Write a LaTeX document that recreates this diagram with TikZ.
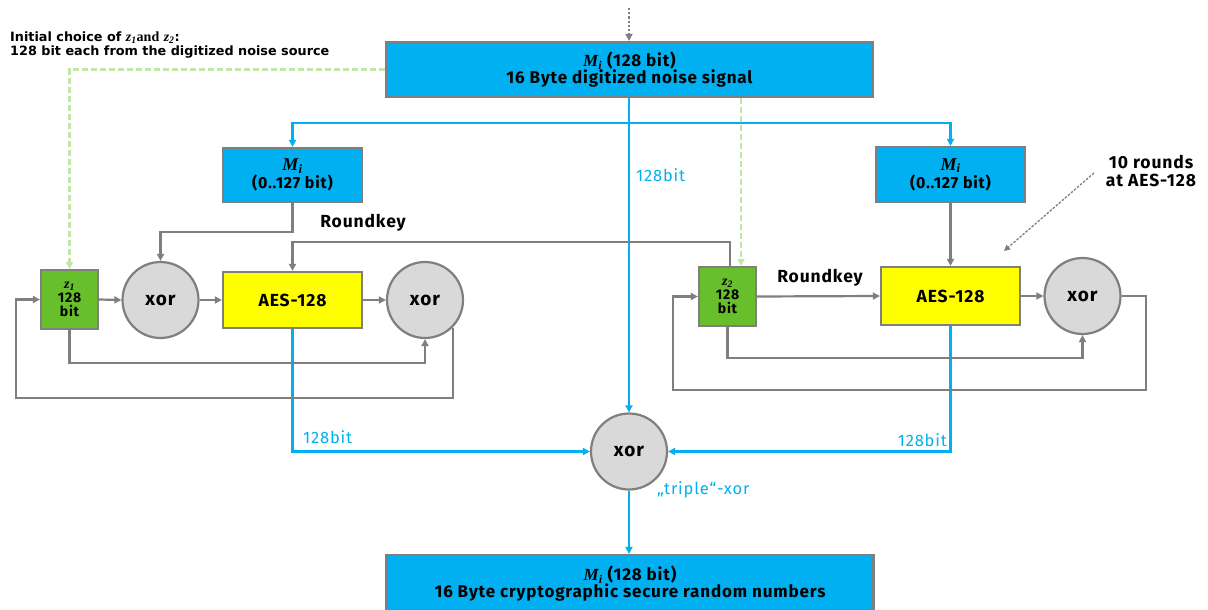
\documentclass[tikz,border=0pt]{standalone}
\usepackage{fontspec}
\setmainfont{Fira Sans}[LetterSpace=5]
\newfontfamily\serifm{Liberation Serif}
\newfontfamily\notefont{DejaVu Sans}
\usetikzlibrary{arrows.meta,calc}
\definecolor{cy}{HTML}{00B0F0}
\definecolor{gr}{HTML}{7F7F7F}
\definecolor{yel}{HTML}{FFFF00}
\definecolor{zg}{HTML}{66BF2B}
\definecolor{lg}{HTML}{C2E5A8}
\definecolor{cg}{HTML}{D9D9D9}
\newcommand{\fsz}[1]{\fontsize{#1}{#1}\selectfont}
\newcommand{\Mi}{{\serifm\bfseries\itshape M\textsubscript{i}}}
\newcommand{\zi}[1]{{\serifm\bfseries\itshape z\textsubscript{#1}}}
\tikzset{
  tip/.style={-{Triangle[length=7pt,width=7pt]}},
  boxnode/.style={draw=gr, line width=2.2pt, inner sep=0pt, align=center, font=\bfseries\fsz{17}},
  bluebox/.style={boxnode, fill=cy},
  aesbox/.style={boxnode, fill=yel, font=\bfseries\fsz{17.5}},
  zbox/.style={boxnode, fill=zg, minimum width=57pt, minimum height=59pt, font=\bfseries\fsz{14}},
  xorc/.style={circle, draw=gr, fill=cg, line width=2.2pt, minimum size=76pt, inner sep=0pt, font=\bfseries\fsz{19}},
  gline/.style={draw=gr, line width=2.2pt, tip},
  bline/.style={draw=cy, line width=2.2pt, tip},
  gdash/.style={draw=lg, line width=2.2pt, dashed, dash pattern=on 6pt off 3pt, tip},
  bluelabel/.style={text=cy, font=\fsz{16.5}, inner sep=0pt},
  blacklabel/.style={font=\bfseries\fsz{17.5}, inner sep=0pt}
}
\begin{document}
\begin{tikzpicture}[x=1pt,y=-1pt]
\useasboundingbox (0,0) rectangle (1208,610);
% nodes
\node[bluebox, minimum width=487pt, minimum height=55pt] (top) at (629.5,69.5)
  {{\fsz{17}\Mi} (128 bit)\\[0pt]16 Byte digitized noise signal};
\node[bluebox, minimum width=487pt, minimum height=58pt] (bot) at (630,584)
  {{\fsz{17}\Mi} (128 bit)\\[0pt]16 Byte cryptographic secure random numbers};
\node[bluebox, minimum width=139pt, minimum height=54pt] (miL) at (292.5,175)
  {{\fsz{18}\Mi}\\[1pt]{\fsz{16}(0..127 bit)}};
\node[bluebox, minimum width=149pt, minimum height=55pt] (miR) at (950.5,174.5)
  {{\fsz{18}\Mi}\\[1pt]{\fsz{16}(0..127 bit)}};
\node[zbox] (z1) at (69.5,299.5) {{\fsz{14}\zi{1}}\\128\\bit};
\node[zbox] (z2) at (727.5,296.5) {{\fsz{14}\zi{2}}\\128\\bit};
\node[xorc] (xL1) at (160.5,300) {xor};
\node[aesbox, minimum width=139pt, minimum height=56pt] (aesL) at (292.5,300) {AES-128};
\node[xorc] (xL2) at (425,300) {xor};
\node[aesbox, minimum width=139pt, minimum height=58pt] (aesR) at (950.5,296) {AES-128};
\node[xorc] (xR) at (1082.5,296) {xor};
\node[xorc] (xC) at (629,451.5) {xor};
% labels
\node[anchor=west, align=left, font=\notefont\bfseries\fsz{12.8}, inner sep=0pt] (note) at (10,45)
  {Initial choice of {\fsz{14}\zi{1}}{\serifm\bfseries\fsz{14}and} {\fsz{14}\zi{2}}:\\[1pt]128 bit each from the digitized noise source};
\node[blacklabel] (rkL) at (363,223) {Roundkey};
\node[blacklabel] (rkR) at (820,278) {Roundkey};
\node[blacklabel, align=center] (rounds) at (1151,171) {10 rounds\\[1pt]at AES-128};
\node[bluelabel, anchor=west] (b1) at (636,175) {128bit};
\node[bluelabel, anchor=west] (b2) at (303,437) {128bit};
\node[bluelabel, anchor=east] (b3) at (947,440) {128bit};
\node[bluelabel, anchor=west] (trip) at (657,490) {„triple“-xor};
% coordinates
\coordinate (src) at (629,8);
\coordinate (jn) at (629,123);
\coordinate (g2) at (741,0);
\coordinate (lL) at (16,398);
\coordinate (rR) at (1146,390);
\coordinate (rL) at (673,390);
\coordinate (annS) at (1094,173);
\coordinate (annE) at (1004,251);
% dotted input
\draw[gline, dotted, line width=2.2pt] (src) -- (top.north -| src);
% blue lines
\draw[bline] (top.south -| xC.north) -- (xC.north);
\draw[bline] (jn) -| (miL.north);
\draw[bline] (jn) -| (miR.north);
\draw[bline] (aesL.south) |- (xC.west);
\draw[bline] (aesR.south) |- (xC.east);
\draw[bline] (xC.south) -- (bot.north -| xC.south);
% green dashed
\draw[gdash] (top.west) -| (z1.north);
\draw[gdash] (top.south -| g2) -- (z2.north -| g2);
% left chain
\draw[gline] (miL.south) -- (miL.south |- 0,232) -| (xL1.north);
\draw[gline] (z1.east) -- (xL1.west);
\draw[gline] (xL1.east) -- (aesL.west);
\draw[gline] (aesL.east) -- (xL2.west);
\draw[gline] (z1.south) -- (z1.south |- 0,363) -| (xL2.south);
\draw[gline] (xL2.-45) |- (lL) |- (z1.west);
% roundkey line from z2 to left AES
\draw[gline] ($(z2.north)+(2.5,0)$) -- ($(z2.north |- 0,242)+(2.5,0)$) -| (aesL.north);
% right chain
\draw[gline] (miR.south) -- (aesR.north);
\draw[gline] (z2.east) -- (aesR.west);
\draw[gline] (aesR.east) -- (xR.west);
\draw[gline] (xR.east) -| (rR) -- (rL) |- (z2.west);
\draw[gline] (z2.south) -- (z2.south |- 0,358) -| (xR.south);
% annotation arrow
\draw[draw=gr, line width=1.3pt, dashed, dash pattern=on 2.5pt off 1.5pt, -{Triangle[length=6pt,width=6pt]}] (annS) -- (annE);
\end{tikzpicture}
\end{document}
